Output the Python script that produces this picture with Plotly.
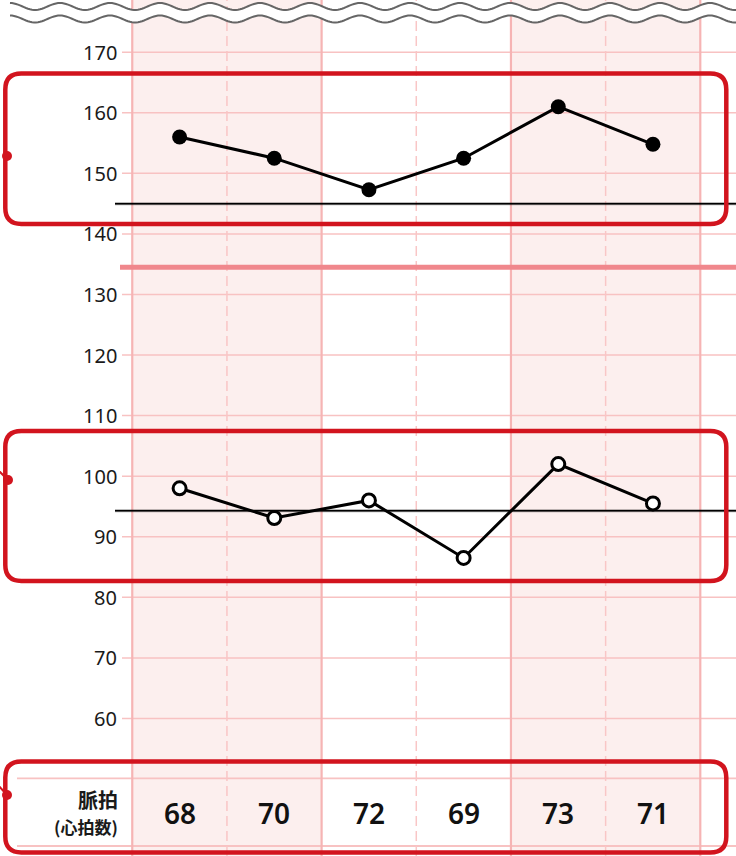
import math
import plotly.graph_objects as go

# ---------------- data ----------------
days = ["1", "2", "3", "4", "5", "6"]
systolic = [156, 152.5, 147.3, 152.5, 161, 154.8]
diastolic = [98, 93.1, 96, 86.5, 102, 95.5]
pulse = [68, 70, 72, 69, 73, 71]
y_ticks = [170, 160, 150, 140, 130, 120, 110, 100, 90, 80, 70, 60]
systolic_ref = 145
diastolic_ref = 94.3
upper_band = 134.5
pulse_label = "脈拍"
pulse_sub = "(心拍数)"

# ---------------- geometry helpers (pixel -> data) ----------------
W, H = 736, 856
CX0, CW = 179.6, 94.67          # centre of first column, column width (px)
PY170, PPU = 52.2, 6.057        # pixel y of value 170, px per unit


def X(px):
    return (px - CX0) / CW


def Y(py):
    return 170 - (py - PY170) / PPU


xs = list(range(len(days)))
shapes = []

PINK_FILL = "#fcefee"
SOLID = "#f6b4b4"
GRID = "#f8c2c2"
DASH = "#f9c6c6"
RED = "#d2141e"

# shaded columns
for a, b in [(-0.5, 1.5), (3.5, 5.5)]:
    shapes.append(dict(type="rect", layer="below", xref="x", yref="y",
                       x0=a, x1=b, y0=Y(H), y1=Y(0),
                       fillcolor=PINK_FILL, line=dict(width=0)))

# horizontal grid lines
for v in y_ticks:
    shapes.append(dict(type="line", layer="below", xref="x", yref="y",
                       x0=X(122), x1=X(W), y0=v, y1=v,
                       line=dict(color=GRID, width=1.5)))
# table lines
for py in [778.3, 846]:
    shapes.append(dict(type="line", layer="below", xref="x", yref="y",
                       x0=X(17), x1=X(W), y0=Y(py), y1=Y(py),
                       line=dict(color=GRID, width=1.8)))

# vertical lines
for xv in [-0.5, 1.5, 3.5, 5.5]:
    shapes.append(dict(type="line", layer="below", xref="x", yref="y",
                       x0=xv, x1=xv, y0=Y(H), y1=Y(0),
                       line=dict(color=SOLID, width=2.2)))
for xv in [0.5, 2.5, 4.5]:
    shapes.append(dict(type="line", layer="below", xref="x", yref="y",
                       x0=xv, x1=xv, y0=Y(H), y1=Y(0),
                       line=dict(color=DASH, width=1.5, dash="10px,5px")))

# thick pink band line
shapes.append(dict(type="line", layer="below", xref="x", yref="y",
                   x0=X(120), x1=X(W), y0=upper_band, y1=upper_band,
                   line=dict(color="#f0878c", width=5)))

# rough black reference lines
for v in [systolic_ref, diastolic_ref]:
    shapes.append(dict(type="line", layer="below", xref="x", yref="y",
                       x0=X(115), x1=X(W), y0=v, y1=v,
                       line=dict(color="rgba(0,0,0,0.35)", width=3)))
    shapes.append(dict(type="line", layer="below", xref="x", yref="y",
                       x0=X(115), x1=X(W), y0=v, y1=v,
                       line=dict(color="#000000", width=1.5)))


# rounded red rectangles
def rrect(x0, y0, x1, y1, r):
    pts = [
        ("M", [(x0 + r, y0)]),
        ("L", [(x1 - r, y0)]),
        ("Q", [(x1, y0), (x1, y0 + r)]),
        ("L", [(x1, y1 - r)]),
        ("Q", [(x1, y1), (x1 - r, y1)]),
        ("L", [(x0 + r, y1)]),
        ("Q", [(x0, y1), (x0, y1 - r)]),
        ("L", [(x0, y0 + r)]),
        ("Q", [(x0, y0), (x0 + r, y0)]),
    ]
    s = ""
    for cmd, ps in pts:
        s += cmd + " " + " ".join(f"{X(px):.5f},{Y(py):.5f}" for px, py in ps) + " "
    return s + "Z"


for (t, b) in [(73.5, 224), (431, 581), (761.5, 852.5)]:
    shapes.append(dict(type="path", layer="above", xref="x", yref="y",
                       path=rrect(5.3, t, 726.3, b, 16),
                       line=dict(color=RED, width=4.5)))

# red dots with leaders
for (dx, dy, lead) in [(7, 156, False), (8, 480, True), (7, 795, True)]:
    if lead:
        shapes.append(dict(type="line", layer="above", xref="x", yref="y",
                           x0=X(-2), y0=Y(dy - 10), x1=X(dx), y1=Y(dy),
                           line=dict(color=RED, width=2)))
    shapes.append(dict(type="circle", layer="above", xref="x", yref="y",
                       x0=X(dx - 5), x1=X(dx + 5), y0=Y(dy - 5), y1=Y(dy + 5),
                       fillcolor=RED, line=dict(color=RED, width=0)))


# wavy break at the top
def wave(cy, amp=3.5, period=50.0, start=10.0):
    pts = []
    px = start
    while px <= W + 2:
        pts.append((px, cy - amp * math.cos(2 * math.pi * (px - start) / period)))
        px += 2
    return pts


top = wave(6.5)
bot = wave(19.0)
band = "M " + " L ".join(f"{X(a):.5f},{Y(b):.5f}" for a, b in top)
band += " L " + " L ".join(f"{X(a):.5f},{Y(b):.5f}" for a, b in reversed(bot)) + " Z"
shapes.append(dict(type="path", layer="above", xref="x", yref="y", path=band,
                   fillcolor="white", line=dict(width=0)))
for wv in (top, bot):
    p = "M " + " L ".join(f"{X(a):.5f},{Y(b):.5f}" for a, b in wv)
    shapes.append(dict(type="path", layer="above", xref="x", yref="y", path=p,
                       line=dict(color="#666666", width=2)))

fig = go.Figure()
fig.add_trace(go.Scatter(
    x=xs, y=systolic, mode="lines+markers",
    line=dict(color="black", width=3),
    marker=dict(size=15, color="black", line=dict(color="black", width=0)),
    hoverinfo="skip", showlegend=False))
fig.add_trace(go.Scatter(
    x=xs, y=diastolic, mode="lines+markers",
    line=dict(color="black", width=3),
    marker=dict(size=13, color="white", line=dict(color="black", width=3)),
    hoverinfo="skip", showlegend=False))

annotations = []
for v in y_ticks:
    annotations.append(dict(x=X(119), y=v, xref="x", yref="y", text=str(v),
                            showarrow=False, xanchor="right", yanchor="middle",
                            font=dict(family="Noto Sans", size=20, color="#1a1a1a")))
for i, p in enumerate(pulse):
    annotations.append(dict(x=xs[i], y=Y(813), xref="x", yref="y", text=str(p),
                            showarrow=False, xanchor="center", yanchor="middle",
                            font=dict(family="Noto Sans", size=28, color="#111111", weight=600)))
annotations.append(dict(x=X(120), y=Y(799), xref="x", yref="y", text=pulse_label,
                        showarrow=False, xanchor="right", yanchor="middle",
                        font=dict(family="Noto Sans CJK JP", size=20, color="#1a1a1a", weight="bold")))
annotations.append(dict(x=X(120), y=Y(826), xref="x", yref="y", text=pulse_sub,
                        showarrow=False, xanchor="right", yanchor="middle",
                        font=dict(family="Noto Sans CJK JP", size=17, color="#1a1a1a", weight="bold")))

fig.update_layout(
    width=W, height=H, autosize=False,
    margin=dict(l=0, r=0, t=0, b=0, pad=0),
    paper_bgcolor="white", plot_bgcolor="white",
    shapes=shapes, annotations=annotations,
    xaxis=dict(range=[X(0), X(W)], visible=False, fixedrange=True),
    yaxis=dict(range=[Y(H), Y(0)], visible=False, fixedrange=True),
)
fig.write_html("out.html", config={"displayModeBar": False},
               post_script="document.body.style.margin='0';document.body.style.overflow='hidden';")
